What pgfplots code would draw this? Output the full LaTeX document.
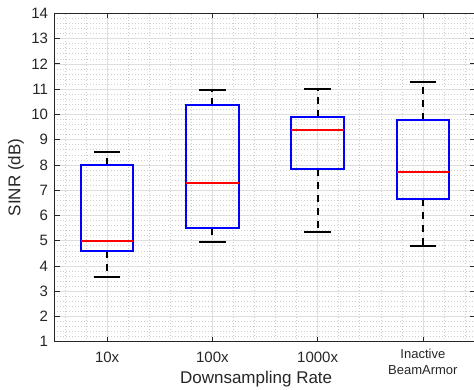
\documentclass[border=0pt]{standalone}
\usepackage{pgfplots}
\pgfplotsset{compat=1.18}
\usepgfplotslibrary{statistics}
\usepackage{fontspec}
\setmainfont{Liberation Sans}
\definecolor{axgray}{RGB}{38,38,38}
\definecolor{gridmaj}{RGB}{222,222,222}
\definecolor{gridmin}{RGB}{205,205,205}
\begin{document}
\begin{tikzpicture}
\begin{axis}[
  scale only axis,
  width=421pt, height=328.4pt,
  xmin=0.5, xmax=4.5, ymin=1, ymax=14,
  xtick={1,2,3}, xticklabels={10x,100x,1000x},
  extra x ticks={4},
  extra x tick labels={Inactive\\BeamArmor},
  extra x tick style={xticklabel style={font=\fontsize{13}{16}\selectfont, align=center, yshift=3pt}},
  ytick={1,2,...,14},
  minor xtick={0.6,0.8,1.2,1.4,1.6,1.8,2.2,2.4,2.6,2.8,3.2,3.4,3.6,3.8,4.2,4.4},
  minor y tick num=4,
  grid=both,
  major grid style={gridmaj, line width=0.6pt},
  minor grid style={gridmin, line width=0.5pt, dash pattern=on 0.6pt off 2.4pt},
  tick align=inside,
  major tick length=5pt, minor tick length=0pt,
  axis line style={axgray, line width=0.7pt},
  tick style={axgray, line width=0.7pt},
  ticklabel style={font=\fontsize{15}{18}\selectfont, text=axgray},
  yticklabel style={xshift=-3pt},
  xticklabel style={yshift=-7pt},
  /pgf/number format/assume math mode=true,
  xlabel={Downsampling Rate},
  ylabel={SINR (dB)},
  label style={font=\fontsize{17}{20}\selectfont, text=axgray},
  xlabel style={at={(axis description cs:0.479,0)}, anchor=north, yshift=-29pt, inner sep=0pt},
  ylabel style={at={(axis description cs:0,0.5)}, anchor=center, yshift=38.5pt, inner sep=0pt},
  boxplot/draw direction=y,
  boxplot/box extend=0.5,
  boxplot/whisker extend=0.25,
  boxplot/every box/.style={draw=blue, line width=2pt},
  boxplot/every median/.style={draw=red, line width=2pt},
  boxplot/draw/lower whisker/.code={%
    \draw[black, line width=2pt, dash pattern=on 7pt off 6pt]
      (boxplot box cs:\pgfplotsboxplotvalue{lower quartile},0.5) --
      (boxplot box cs:\pgfplotsboxplotvalue{lower whisker},0.5);
    \draw[black, line width=2pt]
      (boxplot whisker cs:\pgfplotsboxplotvalue{lower whisker},0) --
      (boxplot whisker cs:\pgfplotsboxplotvalue{lower whisker},1);
  },
  boxplot/draw/upper whisker/.code={%
    \draw[black, line width=2pt, dash pattern=on 7pt off 6pt]
      (boxplot box cs:\pgfplotsboxplotvalue{upper quartile},0.5) --
      (boxplot box cs:\pgfplotsboxplotvalue{upper whisker},0.5);
    \draw[black, line width=2pt]
      (boxplot whisker cs:\pgfplotsboxplotvalue{upper whisker},0) --
      (boxplot whisker cs:\pgfplotsboxplotvalue{upper whisker},1);
  },
]
\addplot[black, boxplot prepared={draw position=1,
  lower whisker=3.55, lower quartile=4.6, median=5.0,
  upper quartile=8.0, upper whisker=8.5}] coordinates {};
\addplot[black, boxplot prepared={draw position=2,
  lower whisker=4.95, lower quartile=5.5, median=7.3,
  upper quartile=10.35, upper whisker=10.95}] coordinates {};
\addplot[black, boxplot prepared={draw position=3,
  lower whisker=5.35, lower quartile=7.85, median=9.37,
  upper quartile=9.9, upper whisker=11.0}] coordinates {};
\addplot[black, boxplot prepared={draw position=4,
  lower whisker=4.8, lower quartile=6.63, median=7.72,
  upper quartile=9.78, upper whisker=11.27}] coordinates {};
\end{axis}
\pgfresetboundingbox
\path ([xshift=-54.5pt,yshift=-48.3pt]current axis.south west) rectangle ([xshift=-1.5pt,yshift=13.3pt]current axis.north east);
\end{tikzpicture}
\end{document}
